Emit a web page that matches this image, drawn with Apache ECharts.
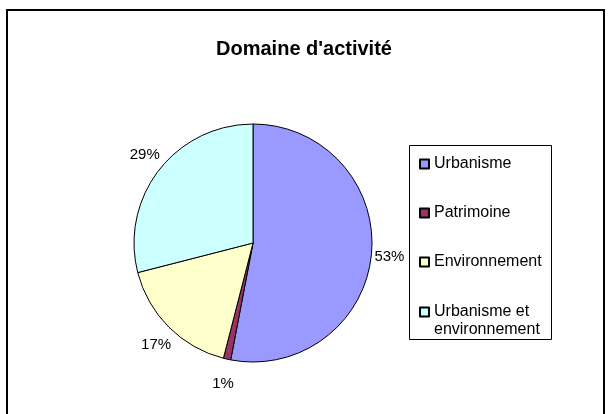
<!DOCTYPE html>
<html>
<head>
<meta charset="utf-8">
<script src="https://cdn.jsdelivr.net/npm/echarts@6/dist/echarts.min.js"></script>
<style>
  html, body { margin: 0; padding: 0; background: #fff; }
  #chart { width: 608px; height: 414px; }
</style>
</head>
<body>
<div id="chart"></div>
<script>
// data
const titleText = "Domaine d'activité";
const categories = ['Urbanisme', 'Patrimoine', 'Environnement', 'Urbanisme et\nenvironnement'];
const values = [53, 1, 17, 29];
const colors = ['#9999FF', '#993366', '#FFFFCC', '#CCFFFF'];

const font = 'Arial, "Liberation Sans", sans-serif';
const chart = echarts.init(document.getElementById('chart'));

const legendBase = {
  orient: 'vertical',
  left: 419,
  padding: 0,
  itemGap: 31,
  itemWidth: 9,
  itemHeight: 9,
  icon: 'rect',
  textStyle: { fontSize: 16, lineHeight: 18, color: '#000', fontFamily: font }
};

const option = {
  backgroundColor: '#fff',
  animation: false,
  title: {
    text: titleText,
    left: 'center',
    top: 34,
    textStyle: { fontSize: 20, fontWeight: 'bold', color: '#000', fontFamily: font }
  },
  legend: [
    Object.assign({}, legendBase, { top: 155, data: categories.slice(0, 3) }),
    // two-line entry: an empty first line keeps the box level with "Urbanisme et"
    Object.assign({}, legendBase, {
      top: 285,
      data: categories.slice(3),
      formatter: function (name) { return '\n' + name; }
    })
  ],
  graphic: [{
    type: 'rect',
    silent: true,
    shape: { x: 7, y: 10, width: 597, height: 420 },
    style: { fill: 'none', stroke: '#000', lineWidth: 2 }
  }, {
    type: 'rect',
    silent: true,
    shape: { x: 409.5, y: 145.5, width: 142, height: 194 },
    style: { fill: 'none', stroke: '#000', lineWidth: 1 }
  }],
  series: [{
    type: 'pie',
    center: [253, 243],
    radius: 119,
    startAngle: 90,
    clockwise: true,
    avoidLabelOverlap: false,
    emphasis: { disabled: true },
    itemStyle: { borderColor: '#000', borderWidth: 1 },
    label: {
      position: 'outside',
      formatter: '{d}%',
      fontSize: 15,
      color: '#000',
      fontFamily: font
    },
    labelLine: { show: true, length: 20, length2: 0, lineStyle: { opacity: 0 } },
    // centre each label on the slice's mid-angle ray, a bit further out vertically
    labelLayout: function (p) {
      const pts = p.labelLinePoints;
      if (!pts) return {};
      const dx = pts[1][0] - pts[0][0];
      const dy = pts[1][1] - pts[0][1];
      return {
        x: pts[0][0] + dx * 0.9,
        y: pts[0][1] + dy * 1.25,
        align: 'center',
        verticalAlign: 'middle'
      };
    },
    data: categories.map((name, i) => ({
      name: name,
      value: values[i],
      itemStyle: { color: colors[i] }
    }))
  }]
};

chart.setOption(option);
</script>
</body>
</html>
